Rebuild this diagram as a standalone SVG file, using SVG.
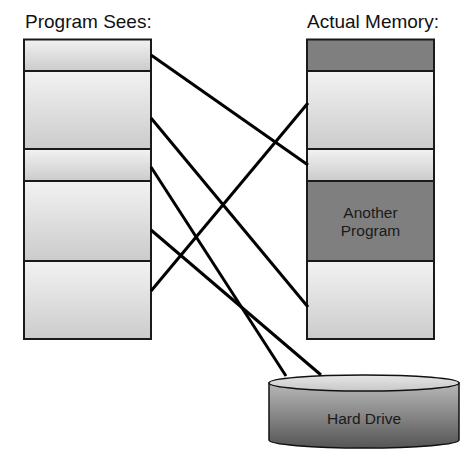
<svg xmlns="http://www.w3.org/2000/svg" width="474" height="463" viewBox="0 0 474 463">
<defs>
<linearGradient id="lg" x1="0" y1="0" x2="0" y2="1"><stop offset="0" stop-color="#f2f2f2"/><stop offset="1" stop-color="#cbcbcb"/></linearGradient>
<linearGradient id="hd" x1="0" y1="0" x2="0" y2="1"><stop offset="0" stop-color="#b8b8b8"/><stop offset="1" stop-color="#555555"/></linearGradient>
<linearGradient id="hdt" x1="0" y1="0" x2="0" y2="1"><stop offset="0" stop-color="#e6e6e6"/><stop offset="1" stop-color="#c8c8c8"/></linearGradient>
</defs>
<style>
.lt{fill:url(#lg);stroke:#1a1a1a;stroke-width:2}
.dk{fill:#7f7f7f;stroke:#1a1a1a;stroke-width:2}
.lab{font-family:"Liberation Sans",Arial,sans-serif;font-size:19px;fill:#111}
.t{font-family:"Liberation Sans",Arial,sans-serif;font-size:15.5px;fill:#1a1a1a;text-anchor:middle}
.c{stroke:#000;stroke-width:3;fill:none}
</style>
<text class="lab" x="25" y="28">Program Sees:</text>
<text class="lab" x="307" y="28">Actual Memory:</text>
<g id="program">
<rect id="p1" class="lt" x="24" y="39.5" width="127" height="31.5"/>
<rect id="p2" class="lt" x="24" y="71" width="127" height="78"/>
<rect id="p3" class="lt" x="24" y="149" width="127" height="32"/>
<rect id="p4" class="lt" x="24" y="181" width="127" height="80"/>
<rect id="p5" class="lt" x="24" y="261" width="127" height="78"/>
</g>
<g id="memory">
<rect id="m1" class="dk" x="307" y="39.5" width="127" height="31.5"/>
<rect id="m2" class="lt" x="307" y="71" width="127" height="78"/>
<rect id="m3" class="lt" x="307" y="149" width="127" height="32"/>
<g id="m4"><rect class="dk" x="307" y="181" width="127" height="80"/>
<text class="t" x="370.5" y="218">Another</text><text class="t" x="370.5" y="236">Program</text></g>
<rect id="m5" class="lt" x="307" y="261" width="127" height="78"/>
</g>
<g id="harddrive">
<path d="M269,383 L269,440 A95,8 0 0 0 459,440 L459,383 Z" fill="url(#hd)" stroke="#111" stroke-width="1.5"/>
<ellipse cx="364" cy="383" rx="95" ry="8" fill="url(#hdt)" stroke="#111" stroke-width="1.5"/>
<text class="t" x="364" y="424">Hard Drive</text>
</g>
<g id="connectors">
<line class="c" x1="151" y1="55" x2="308" y2="165"/>
<line class="c" x1="151" y1="118" x2="308" y2="307"/>
<line class="c" x1="151" y1="167" x2="286" y2="376"/>
<line class="c" x1="151" y1="230" x2="321" y2="375"/>
<line class="c" x1="151" y1="291" x2="308" y2="103"/>
</g>
</svg>
